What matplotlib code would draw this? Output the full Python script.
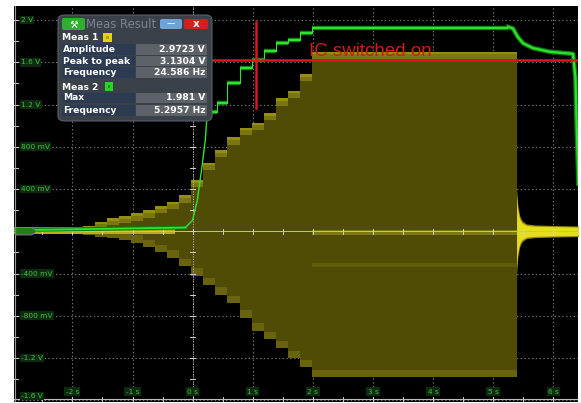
import numpy as np
import matplotlib
matplotlib.use("Agg")
import matplotlib.pyplot as plt
from matplotlib.patches import Rectangle, FancyBboxPatch
from matplotlib.transforms import blended_transform_factory

W, H, DPI = 581, 403, 100

# ---- time base and vertical scale --------------------------------------
t_min, t_max = -2.972, 6.412
v_min, v_max = -1.612, 2.138
time_ticks = [-2, -1, 0, 1, 2, 3, 4, 5, 6]
time_labels = ["-2 s", "-1 s", "0 s", "1 s", "2 s", "3 s", "4 s", "5 s", "6 s"]
volt_ticks = [2.0, 1.6, 1.2, 0.8, 0.4, -0.4, -0.8, -1.2, -1.6]
volt_labels = ["2 V", "1.6 V", "1.2 V", "800 mV", "400 mV",
               "-400 mV", "-800 mV", "-1.2 V", "-1.6 V"]

# ---- channel 1 (yellow): stepped burst envelope ------------------------
ch1_step_start = [-2.97, -1.82, -1.62, -1.42, -1.22, -1.02, -0.82, -0.62,
                  -0.42, -0.22, -0.02, 0.18, 0.38, 0.58, 0.78, 0.98, 1.18,
                  1.38, 1.58, 1.78, 1.98]
ch1_upper = [0.04, 0.05, 0.09, 0.125, 0.145, 0.17, 0.20, 0.24, 0.28, 0.34,
             0.485, 0.65, 0.77, 0.89, 0.98, 1.03, 1.12, 1.26, 1.33, 1.49, 1.70]
ch1_lower = [-0.03, -0.035, -0.055, -0.065, -0.08, -0.11, -0.15, -0.20,
             -0.25, -0.33, -0.42, -0.51, -0.60, -0.68, -0.82, -0.94, -1.02,
             -1.11, -1.20, -1.29, -1.38]
ch1_burst_end = 5.39
# ring-down after the burst stops
ch1_decay_t = [5.39, 5.41, 5.44, 5.48, 5.55, 5.70, 6.00, 6.42]
ch1_decay_amp = [0.42, 0.25, 0.15, 0.10, 0.07, 0.06, 0.055, 0.05]

# ---- channel 2 (green) --------------------------------------------------
ch2_rise_t = [-2.97, -0.45, -0.25, -0.12, 0.0, 0.08, 0.16, 0.21, 0.245]
ch2_rise_v = [0.01, 0.012, 0.02, 0.035, 0.105, 0.30, 0.63, 0.86, 1.13]
ch2_step_start = [0.245, 0.40, 0.58, 0.78, 0.98, 1.18, 1.38, 1.58, 1.78, 1.98]
ch2_step_v = [1.13, 1.21, 1.40, 1.55, 1.62, 1.705, 1.78, 1.81, 1.88, 1.925]
ch2_plateau_end = 5.25
ch2_fall_t = [5.25, 5.33, 5.41, 5.50, 5.66, 5.94, 6.33, 6.37, 6.39, 6.42]
ch2_fall_v = [1.935, 1.92, 1.84, 1.78, 1.735, 1.70, 1.68, 1.45, 1.00, 0.45]

# ---- annotation ---------------------------------------------------------
switch_level = 1.625
switch_time = 1.06
switch_marker_v = (1.17, 1.98)
switch_text = "IC switched on"

# ---- measurement window -------------------------------------------------
meas1_rows = [("Amplitude", "2.9723 V"), ("Peak to peak", "3.1304 V"),
              ("Frequency", "24.586 Hz")]
meas2_rows = [("Max", "1.981 V"), ("Frequency", "5.2957 Hz")]

# ========================================================================
fig = plt.figure(figsize=(W / DPI, H / DPI), dpi=DPI, facecolor="white")
ax = fig.add_axes([14 / W, 1.5 / H, 564 / W, 396 / H])
ax.set_facecolor("black")
ax.set_xlim(t_min, t_max)
ax.set_ylim(v_min, v_max)
for s in ax.spines.values():
    s.set_visible(False)
ax.set_xticks([])
ax.set_yticks([])

grid_col = "#7a7a7a"
for tv in time_ticks:
    ax.axvline(tv, color=grid_col, lw=0.8, ls=(0, (1.2, 2.2)), zorder=1)
for vv in volt_ticks:
    ax.axhline(vv, color=grid_col, lw=0.8, ls=(0, (1.2, 2.2)), zorder=1)

# burst envelope
xs = ch1_step_start + [ch1_burst_end]
up_a = np.array(ch1_upper + [ch1_upper[-1]])
lo_a = np.array(ch1_lower + [ch1_lower[-1]])
ax.fill_between(xs, lo_a, up_a, step="post", color="#504c06", lw=0, zorder=2)
band = np.minimum(0.07, 0.35 * (up_a - lo_a))
ax.fill_between(xs, up_a - band, up_a, step="post", color="#7c7610", lw=0, zorder=2.2)
ax.fill_between(xs, lo_a, lo_a + band, step="post", color="#68630c", lw=0, zorder=2.2)
ax.fill_between(xs, up_a - band * 0.35, up_a, step="post", color="#958d15", lw=0, zorder=2.3)
# dense trace region around zero before the burst
ax.fill_between([t_min, -0.3], [-0.03, -0.03], [0.035, 0.035], color="#b8ae18",
                lw=0, zorder=2.4)
ax.fill_between([1.98, ch1_burst_end], [-0.035, -0.035], [0.015, 0.015],
                color="#7d7812", lw=0, zorder=2.4)
ax.fill_between([1.98, ch1_burst_end], [-0.335, -0.335], [-0.305, -0.305],
                color="#615c0a", lw=0, zorder=2.4)
# ring-down
dt = np.array(ch1_decay_t)
da = np.array(ch1_decay_amp)
ax.fill_between(dt, -da, da, color="#8f8812", lw=0, zorder=2.5)
ax.fill_between(dt, -da * 0.8, da * 0.8, color="#e6dc22", lw=0, zorder=2.6)

# axes crosshair at t=0 / 0 V
ax.axhline(0, color="#bdbdbd", lw=0.7, zorder=3)
ax.axvline(0, color="#bdbdbd", lw=0.6, ls=(0, (1.5, 1.5)), zorder=3)
for tv in np.arange(-2.5, 6.5, 0.5):
    ax.plot([tv, tv], [-0.025, 0.025], color="#d0d0d0", lw=0.7, zorder=3)
    ax.plot([tv, tv], [v_min + 0.005, v_min + 0.045], color="#d0d0d0", lw=0.7, zorder=3)
for vv in np.arange(-1.4, 2.1, 0.2):
    ax.plot([-0.04, 0.04], [vv, vv], color="#d0d0d0", lw=0.7, zorder=3)
    ax.plot([t_min, t_min + 0.06], [vv, vv], color="#d0d0d0", lw=0.7, zorder=3)
ax.axhline(v_min + 0.02, color="#bdbdbd", lw=0.8, zorder=3)
ax.axvline(t_min + 0.01, color="#9a9a9a", lw=0.8, zorder=3)

# channel 2 trace: thick where it dwells, thin on fast edges
glow, core = "#0f7a14", "#2ee22e"
flat_t = [ch2_rise_t[0], ch2_rise_t[3]]
flat_v = [ch2_rise_v[0], ch2_rise_v[3]]
ax.plot(flat_t, flat_v, color=glow, lw=2.8, zorder=4, solid_capstyle="butt")
ax.plot(flat_t, flat_v, color=core, lw=1.3, zorder=4.1)
ax.plot(ch2_rise_t[3:], ch2_rise_v[3:], color=core, lw=1.0, zorder=4.1)
step_end = ch2_step_start[1:] + [ch2_plateau_end]
for i, (a, b, v) in enumerate(zip(ch2_step_start, step_end, ch2_step_v)):
    ax.plot([a, b], [v, v], color=glow, lw=3.2, zorder=4, solid_capstyle="butt")
    ax.plot([a, b], [v, v], color=core, lw=1.6, zorder=4.1, solid_capstyle="butt")
    if i > 0:
        ax.plot([a, a], [ch2_step_v[i - 1], v], color=core, lw=0.8, zorder=4.1)
ax.plot(ch2_fall_t, ch2_fall_v, color=glow, lw=3.4, zorder=4)
ax.plot(ch2_fall_t, ch2_fall_v, color=core, lw=1.6, zorder=4.1)

# channel marker on the left
ax.fill([t_min + 0.03, t_min + 0.3, t_min + 0.38, t_min + 0.3, t_min + 0.03],
        [0.035, 0.035, 0.0, -0.035, -0.035], color="#2a7a1c", ec="#8a7aa0",
        lw=0.6, zorder=4.5)

# annotation
ax.plot([0.33, t_max], [switch_level, switch_level], color="#e01515", lw=1.8, zorder=5)
ax.plot([switch_time, switch_time], switch_marker_v, color="#e01515", lw=1.8, zorder=5)
ax.text(1.93, 1.664, switch_text, color="#d41a1a", fontsize=13.5,
        family="Liberation Sans", ha="left", va="baseline", zorder=5)

# scale labels
lbl_box = dict(boxstyle="square,pad=0.18", fc="#0e2a10", ec="none")
trans_y = blended_transform_factory(ax.transAxes, ax.transData)
for vv, lab in zip(volt_ticks, volt_labels):
    yy = vv if vv > -1.5 else -1.56
    ax.text(7 / 564, yy, lab, transform=trans_y, color="#3dc43d", fontsize=5.3,
            ha="left", va="center", bbox=lbl_box, zorder=6)
for tv, lab in zip(time_ticks, time_labels):
    ax.text(tv, -1.52, lab, color="#3dc43d", fontsize=5.3, ha="center",
            va="center", bbox=lbl_box, zorder=6)

# ---- measurement window (figure pixel coordinates, origin top-left) ----
def box(x0, y0, x1, y1, fc, z=10, rounding=0.0, ec="none", lw=0):
    if rounding > 0:
        p = FancyBboxPatch((x0 / W, 1 - y1 / H), (x1 - x0) / W, (y1 - y0) / H,
                           boxstyle=f"round,pad=0,rounding_size={rounding}",
                           transform=fig.transFigure, fc=fc, ec=ec, lw=lw,
                           zorder=z)
    else:
        p = Rectangle((x0 / W, 1 - y1 / H), (x1 - x0) / W, (y1 - y0) / H,
                      transform=fig.transFigure, fc=fc, ec=ec, lw=lw, zorder=z)
    fig.add_artist(p)


def ftext(x, y, s, **kw):
    fig.text(x / W, 1 - y / H, s, zorder=12, **kw)


box(58, 15, 212, 121, "#3b4149", rounding=0.012, ec="#59606a", lw=0.8)
box(62, 18, 85, 30, "#2fae2f", z=11, rounding=0.004)
ftext(73.5, 24.5, "\u2692", color="white", fontsize=7, ha="center", va="center",
      fontweight="bold")
ftext(86, 24.5, "Meas Result", color="#7d838b", fontsize=8.4, ha="left", va="center")
box(160, 19, 182, 29, "#6fa3d6", z=11, rounding=0.004)
ftext(171, 23.5, "\u2014", color="white", fontsize=6, ha="center", va="center")
box(184, 19, 208, 29, "#d51e1e", z=11, rounding=0.004)
ftext(196, 24, "x", color="white", fontsize=7.5, ha="center", va="center",
      fontweight="bold")

row_font = dict(color="white", fontsize=6.6, fontweight="bold", va="center")
ftext(62, 38, "Meas 1", ha="left", **row_font)
box(103, 33, 112, 42, "#e2d414", z=11)
box(106, 36, 109, 39, "#b0a40c", z=11.5)
row_y = [(44, 55), (56, 66), (67, 78)]
for (lab, val), (y0, y1) in zip(meas1_rows, row_y):
    box(62, y0, 135, y1, "#2c3a52", z=11)
    box(136, y0, 207, y1, "#5d6168", z=11)
    ftext(63, (y0 + y1) / 2, lab, ha="left", **row_font)
    ftext(205, (y0 + y1) / 2, val, ha="right", **row_font)
ftext(62, 87, "Meas 2", ha="left", **row_font)
box(105, 82, 113, 91, "#22d622", z=11)
box(108, 85, 110, 88, "#129012", z=11.5)
row_y2 = [(93, 103), (105, 116)]
for (lab, val), (y0, y1) in zip(meas2_rows, row_y2):
    box(62, y0, 135, y1, "#2c3a52", z=11)
    box(136, y0, 207, y1, "#5d6168", z=11)
    ftext(63, (y0 + y1) / 2, lab, ha="left", **row_font)
    ftext(205, (y0 + y1) / 2, val, ha="right", **row_font)

fig.savefig("out.png", dpi=DPI, facecolor="white")
